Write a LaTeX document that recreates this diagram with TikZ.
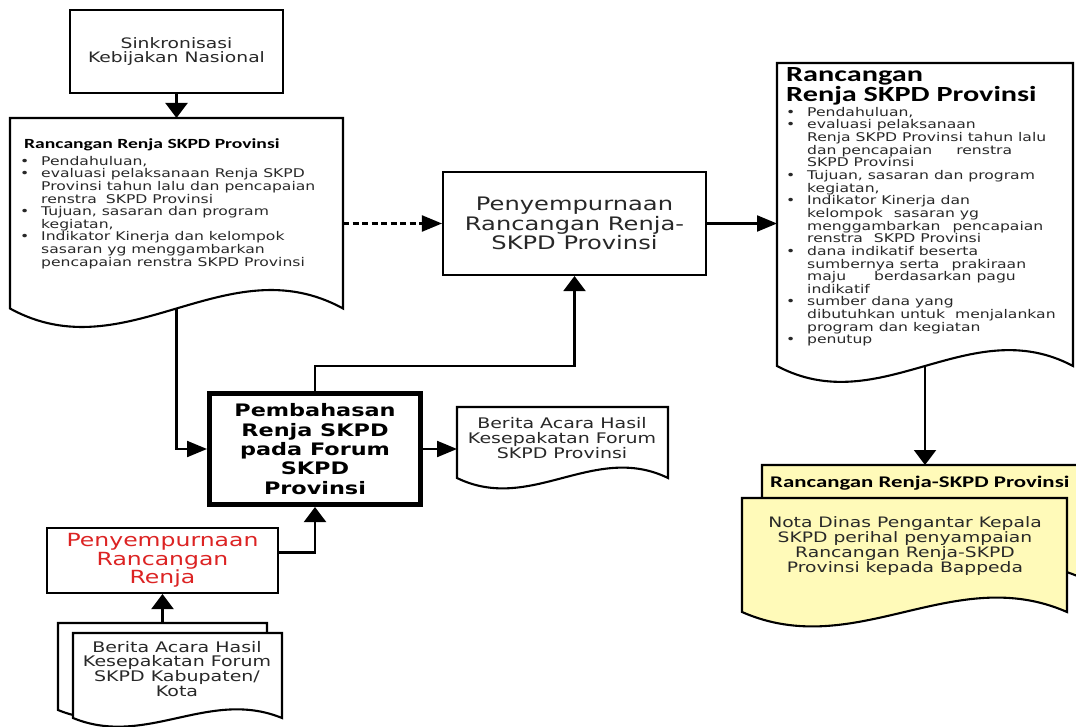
\documentclass[tikz,border=0pt]{standalone}
\usepackage{fontspec}
\setmainfont{DejaVu Sans}[FakeStretch=1.3]
\newfontfamily\hdfont{Carlito}[FakeStretch=1.4]
\usetikzlibrary{arrows.meta}
\definecolor{docyellow}{RGB}{255,250,185}
\definecolor{redtxt}{RGB}{220,35,35}
\definecolor{inkgray}{RGB}{40,40,40}
\newcommand{\fs}[2]{\fontsize{#1}{#2}\selectfont}
\newcommand{\bitem}{\makebox[21pt][l]{\textbullet}}
\newcommand{\cont}{\hspace*{21pt}}
\newcommand{\docshape}[7][]{%
  \draw[doc,#1] (#3,#4) -- (#5,#4) -- (#5,#6)
    .. controls ({#5-0.35*(#5-#3)},{#6-#7}) and ({#3+0.35*(#5-#3)},{#6+#7}) .. (#3,#6) -- cycle;
  \node[inner sep=0pt, outer sep=0pt, minimum width={(#5-#3)*1pt}, minimum height={(#6-#4)*1pt}] (#2) at ({(#3+#5)/2},{(#4+#6)/2}) {};
}
\begin{document}
\begin{tikzpicture}[x=1pt,y=-1pt,
  box/.style={draw, line width=2.1pt, fill=white, align=center, inner sep=0pt, text=inkgray},
  doc/.style={draw, line width=2.1pt, fill=white},
  harr/.style={line width=2.1pt, -{Triangle[length=20pt,width=16pt]}},
  varr/.style={line width=2.1pt, -{Triangle[length=15pt,width=22pt]}},
  txt/.style={inner sep=0pt, anchor=base west},
  blk/.style={inner sep=0pt, anchor=north west, align=left, text=inkgray}]
\useasboundingbox (0,0) rectangle (1076,727);
\clip (0,0) rectangle (1076,727);

% boxes
\node[box, minimum width=213pt, minimum height=83pt, font=\fs{14.4}{13.5}] (sink) at (176.5,51.5) {Sinkronisasi\\Kebijakan Nasional};
\node[box, minimum width=263pt, minimum height=103pt, font=\fs{18.6}{19.5}] (mid) at (574.5,223.5) {Penyempurnaan\\Rancangan Renja-\\SKPD Provinsi};
\node[box, line width=5pt, minimum width=211pt, minimum height=111pt, text=black, font=\bfseries\fs{17.2}{19.3}] (big) at (315,449) {Pembahasan\\Renja SKPD\\pada Forum\\SKPD\\Provinsi};
\node[box, minimum width=231pt, minimum height=65pt, text=redtxt, font=\fs{18.1}{18.5}] (red) at (162.5,560.5) {Penyempurnaan\\Rancangan\\Renja};

% documents
\docshape{ldoc}{10}{118}{343}{308.5}{64}
\docshape{rdoc}{777}{63}{1073}{366}{55}
\docshape{bprov}{457}{407}{668}{478}{36}
\docshape{bkb}{58}{623}{267}{710}{30}
\docshape{bkf}{73}{633}{282}{718}{30}
\docshape[fill=docyellow]{yb}{762}{465}{1082}{578}{50}
\docshape[fill=docyellow]{yf}{742}{498}{1067}{612}{50}

% left document text
\node[txt, font=\hdfont\bfseries\fs{14}{16}] (lhead) at (24,149) {Rancangan Renja SKPD Provinsi};
\node[blk, font=\fs{12}{12.6}] (lbody) at (20,155.9) {%
\bitem Pendahuluan,\\
\bitem evaluasi pelaksanaan Renja SKPD\\
\cont Provinsi tahun lalu dan pencapaian\\
\cont renstra\hspace{4pt} SKPD Provinsi\\
\bitem Tujuan, sasaran dan program\\
\cont kegiatan,\\
\bitem Indikator Kinerja dan kelompok\\
\cont sasaran yg menggambarkan\\
\cont pencapaian renstra SKPD Provinsi};

% right document text
\node[blk, text=black, font=\hdfont\bfseries\fs{21.6}{19.6}] (rhead) at (786,67.5) {Rancangan\\Renja SKPD Provinsi};
\node[blk, font=\fs{12}{12.65}] (rbody) at (786,106.9) {%
\bitem Pendahuluan,\\
\bitem evaluasi pelaksanaan\\
\cont Renja SKPD Provinsi tahun lalu\\
\cont dan pencapaian\hspace{24pt}renstra\\
\cont SKPD Provinsi\\
\bitem Tujuan, sasaran dan program\\
\cont kegiatan,\\
\bitem Indikator Kinerja dan\\
\cont kelompok\hspace{6pt} sasaran yg\\
\cont menggambarkan\hspace{12pt}pencapaian\\
\cont renstra\hspace{6pt} SKPD Provinsi\\
\bitem dana indikatif beserta\\
\cont sumbernya serta\hspace{12pt}prakiraan\\
\cont maju\hspace{28pt}berdasarkan pagu\\
\cont indikatif\\
\bitem sumber dana yang\\
\cont dibutuhkan untuk\hspace{5pt} menjalankan\\
\cont program dan kegiatan\\
\bitem penutup};

% other document texts
\node[inner sep=0pt, anchor=north, align=center, text=inkgray, font=\fs{14.6}{15}] (bprovt) at (562,416.9) {Berita Acara Hasil\\Kesepakatan Forum\\SKPD Provinsi};
\node[inner sep=0pt, anchor=north, align=center, text=inkgray, font=\fs{14.6}{14.7}] (bkft) at (177,640.9) {Berita Acara Hasil\\Kesepakatan Forum\\SKPD Kabupaten/\\Kota};
\node[txt, font=\hdfont\bfseries\fs{16.3}{17}] (ybt) at (770,487.5) {Rancangan Renja-SKPD Provinsi};
\node[inner sep=0pt, anchor=north, align=center, text=inkgray, font=\fs{14.4}{15}] (yft) at (905,516.1) {Nota Dinas Pengantar Kepala\\SKPD perihal penyampaian\\Rancangan Renja-SKPD\\Provinsi kepada Bappeda};

% connectors
\draw[varr] (sink.south) -- (ldoc.north);
\draw[harr, dash pattern=on 6pt off 3.5pt] (ldoc.east |- mid.west) -- (mid.west);
\draw[harr] (mid.east) -- (rdoc.west |- mid.east);
\draw[harr] (ldoc.south) |- (big.west);
\draw[varr] (big.north) -- ++(0,-25) -| (mid.south);
\draw[harr] (big.east) -- (bprov.west |- big.east);
\draw[varr] (rdoc.south) -- (rdoc.south |- yb.north);
\draw[varr] ([yshift=8pt]red.east) -| (big.south);
\draw[varr] (bkb.north -| red.south) -- (red.south);
\end{tikzpicture}
\end{document}
